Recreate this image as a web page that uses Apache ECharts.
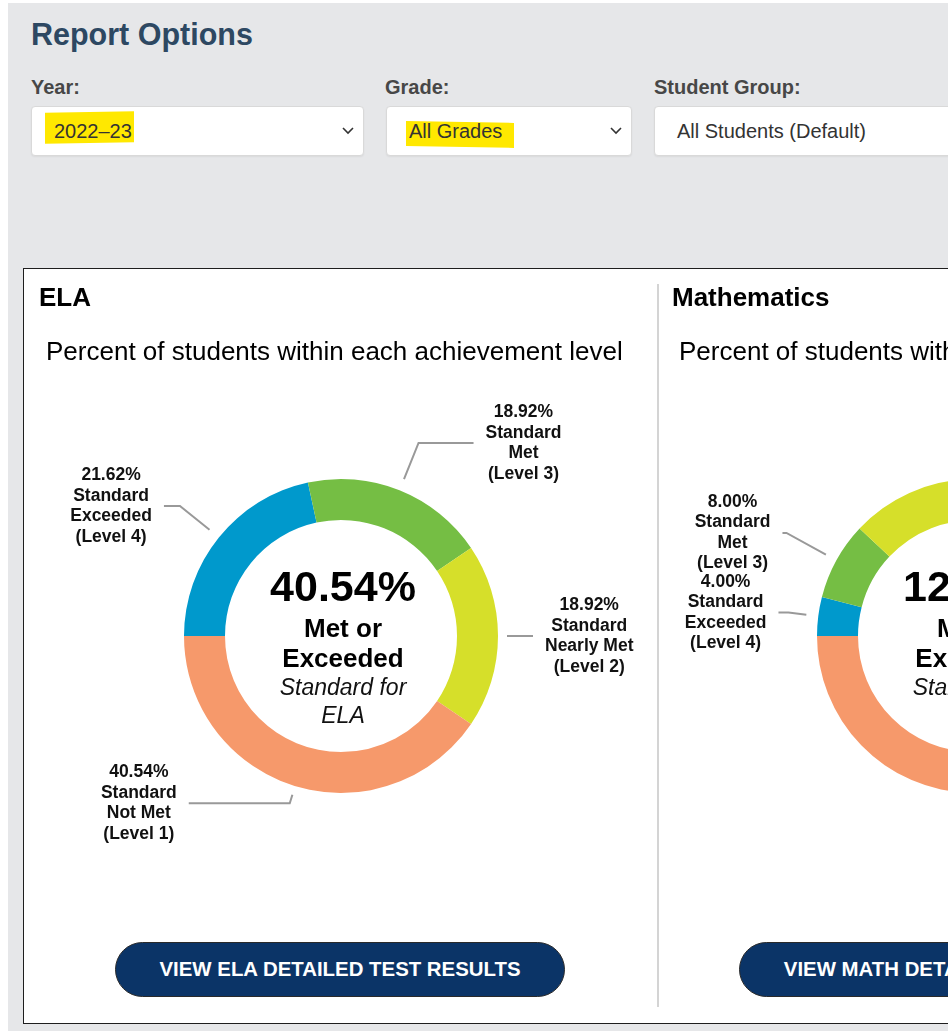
<!DOCTYPE html>
<html>
<head>
<meta charset="utf-8">
<script src="https://cdn.jsdelivr.net/npm/echarts@6/dist/echarts.min.js"></script>
<style>
    html, body { margin: 0; padding: 0; }
    body { width: 948px; height: 1031px; overflow: hidden; position: relative; background: #fff; font-family: "Liberation Sans", Arial, sans-serif; }
    .bg { position: absolute; left: 8px; top: 3px; width: 1400px; height: 1100px; background: #e6e7e9; }
    .heading { position: absolute; left: 31px; top: 19px; font-size: 30.5px; line-height: 30.5px; font-weight: bold; color: #2d4862; }
    .lbl { position: absolute; top: 77px; font-size: 20px; line-height: 20px; font-weight: bold; color: #474747; }
    .sel { position: absolute; top: 106px; height: 50px; box-sizing: border-box; background: #fff; border: 1px solid #d9d9d9; border-radius: 4px; box-shadow: 0 1px 2px rgba(0,0,0,0.06); font-size: 20px; line-height: 48px; color: #333; padding-left: 22px; }
    .sel svg { position: absolute; right: 9px; top: 20px; }
    .sel span { position: relative; }
    .mark { position: absolute; background: #ffe800; }
    .panel { position: absolute; left: 23px; top: 268px; width: 1400px; height: 756px; box-sizing: border-box; background: #fff; border: 1px solid #1e1e1e; }
    .divider { position: absolute; left: 657px; top: 284px; width: 2px; height: 723px; background: #d4d4d4; }
    .btn { position: absolute; top: 942px; width: 450px; height: 55px; box-sizing: border-box; border-radius: 28px; background: #0b3467; border: 1px solid #2a2a2a; color: #fff; font-size: 20.4px; font-weight: bold; line-height: 53px; text-align: center; white-space: nowrap; }
    #chart { position: absolute; left: 0; top: 0; width: 1300px; height: 1031px; }
</style>
</head>
<body>
<div class="bg"></div>
<div class="heading">Report Options</div>
<div class="lbl" style="left:31px">Year:</div>
<div class="lbl" style="left:385px">Grade:</div>
<div class="lbl" style="left:654px">Student Group:</div>

<div class="sel" style="left:31px; width:333px">
    <div class="mark" style="left:13px; top:5px; width:89px; height:31px; transform:skewY(-1deg)"></div>
    <span>2022–23</span>
    <svg width="12" height="8"><polyline points="1,1 6,6 11,1" stroke="#333" stroke-width="1.6" fill="none"/></svg>
</div>
<div class="sel" style="left:386px; width:246px">
    <div class="mark" style="left:19px; top:15px; width:108px; height:25px; transform:skewY(1deg)"></div>
    <span>All Grades</span>
    <svg width="12" height="8"><polyline points="1,1 6,6 11,1" stroke="#333" stroke-width="1.6" fill="none"/></svg>
</div>
<div class="sel" style="left:654px; width:400px">
    <span>All Students (Default)</span>
</div>

<div class="panel"></div>
<div class="divider"></div>
<div class="btn" style="left:115px">VIEW ELA DETAILED TEST RESULTS</div>
<div class="btn" style="left:739px; width:468px">VIEW MATH DETAILED TEST RESULTS</div>

<div id="chart"></div>

<script>
// achievement levels, in drawing order (clockwise from 9 o'clock)
const levels = ['Standard\nExceeded\n(Level 4)', 'Standard\nMet\n(Level 3)', 'Standard\nNearly Met\n(Level 2)', 'Standard\nNot Met\n(Level 1)']
const levelColors = ['#0099cc', '#75be44', '#d6df2a', '#f6996b']

const elaValues = [21.62, 18.92, 18.92, 40.54]
// Level 2 / Level 1 are hidden past the right edge in the reference: estimated
const mathValues = [4.00, 8.00, 32.00, 56.00]

// label line lengths [length, length2] per slice
const elaLines = [[50, 16], [51, 55], [18, 17], [18, 101]]
const mathLines = [[30, 10], [57, 4], [30, 20], [30, 20]]

const fontFamily = '"Liberation Sans", Arial, sans-serif'

const makeData = (values, lines) => values.map((v, i) => ({
    name: levels[i],
    value: v,
    itemStyle: { color: levelColors[i] },
    labelLine: { length: lines[i][0], length2: lines[i][1] }
}))

const labelFormatter = p => {
    let rows = [p.value.toFixed(2) + '%'].concat(p.name.split('\n'))
    return rows.map(r => '{c|' + r + '}').join('\n')
}

// pull the start of each label line a little away from the ring
const gapLayout = params => {
    let pts = params.labelLinePoints
    if (!pts || pts.length < 2) return {}
    let dx = pts[1][0] - pts[0][0], dy = pts[1][1] - pts[0][1]
    let d = Math.sqrt(dx * dx + dy * dy)
    if (!d) return {}
    let g = Math.min(12, d * 0.5)
    let out = pts.map(p => [p[0], p[1]])
    out[0] = [pts[0][0] + dx / d * g, pts[0][1] + dy / d * g]
    return { labelLinePoints: out }
}

const pieSeries = (center, values, lines) => ({
    type: 'pie',
    center: center,
    radius: [116, 157],
    startAngle: 180,
    clockwise: true,
    padAngle: 0,
    avoidLabelOverlap: false,
    silent: true,
    itemStyle: { borderWidth: 0 },
    label: {
        show: true,
        position: 'outside',
        distanceToLabelLine: 12,
        formatter: labelFormatter,
        rich: {
            c: { fontFamily: fontFamily, fontSize: 17.5, fontWeight: 'bold', color: '#111', lineHeight: 20.5, align: 'center' }
        }
    },
    labelLine: { show: true, smooth: false, lineStyle: { color: '#999', width: 2 } },
    labelLayout: gapLayout,
    data: makeData(values, lines)
})

const metPct = values => (values[0] + values[1]).toFixed(2) + '%'

const centerRich = {
    a: { fontFamily: fontFamily, fontSize: 43, fontWeight: 'bold', color: '#000', lineHeight: 52, align: 'center' },
    b: { fontFamily: fontFamily, fontSize: 26, fontWeight: 'bold', color: '#000', lineHeight: 30, align: 'center' },
    c: { fontFamily: fontFamily, fontSize: 23, fontWeight: 'normal', fontStyle: 'italic', color: '#111', lineHeight: 28, align: 'center' }
}

const centerTitle = (x, values, subject) => ({
    left: x,
    top: 563,
    padding: 0,
    textAlign: 'center',
    text: '{a|' + metPct(values) + '}\n{b|Met or}\n{b|Exceeded}\n{c|Standard for}\n{c|' + subject + '}',
    textStyle: { rich: centerRich }
})

const headStyle = { fontFamily: fontFamily, fontSize: 26, fontWeight: 'bold', color: '#000' }
const subStyle = { fontFamily: fontFamily, fontSize: 26, fontWeight: 'normal', color: '#000' }

const chart = echarts.init(document.getElementById('chart'))
chart.setOption({
    animation: false,
    title: [
        { text: 'ELA', left: 39, top: 286, padding: 0, textStyle: headStyle },
        { text: 'Percent of students within each achievement level', left: 46, top: 340, padding: 0, textStyle: subStyle },
        { text: 'Mathematics', left: 672, top: 286, padding: 0, textStyle: headStyle },
        { text: 'Percent of students within each achievement level', left: 679, top: 340, padding: 0, textStyle: subStyle },
        centerTitle(343, elaValues, 'ELA'),
        centerTitle(976, mathValues, 'Math')
    ],
    series: [
        pieSeries([341, 636], elaValues, elaLines),
        pieSeries([974, 636], mathValues, mathLines)
    ]
})
</script>
</body>
</html>
